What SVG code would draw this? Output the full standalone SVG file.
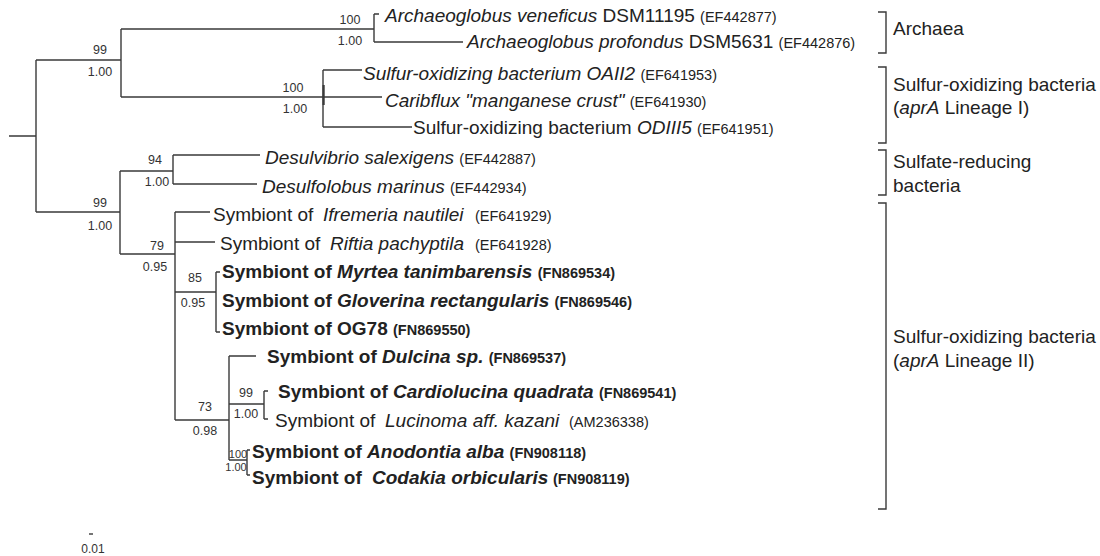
<svg xmlns="http://www.w3.org/2000/svg" width="1100" height="556" viewBox="0 0 1100 556">
<style>
  .br { stroke:#3a3a3a; stroke-width:1.4; fill:none; }
  text { font-family:"Liberation Sans", Arial, Helvetica, sans-serif; fill:#222; }
  .tx { font-size:19px; }
  .b { font-weight:bold; }
  .i { font-style:italic; }
  .acc { font-size:14.5px; font-style:normal; }
  .sup { font-size:12.5px; text-anchor:middle; fill:#333; }
  .sm { font-size:11px; }
  .grp { font-size:19px; }
</style>
<rect width="1100" height="556" fill="#fff"/>
<g id="connectors" class="br">
  <path d="M9,136 H36 M36,60 V212 M36,60 H121 M121,29 V97 M121,29 H374 M374,14 V42 M374,14 H379 M374,42 H463"/>
  <path d="M121,97 H323 M323,70 V127 M323,70 H362 M323,97 H382 M323,127 H412"/>
  <path d="M36,212 H120 M120,171 V254 M120,171 H173 M173,155 V184 M173,155 H260 M173,184 H257"/>
  <path d="M120,254 H175 M175,212 V420 M175,212 H210 M175,242 H215 M175,292 H216 M216,272 V332 M216,272 H220 M216,332 H220"/>
  <path d="M175,420 H229 M229,356 V460 M229,356 H256 M229,404 H264 M264,391 V419 M264,391 H268 M264,419 H268 M229,460 H247 M247,450 V475 M247,450 H250 M247,475 H250"/>
  <rect x="322.5" y="85" width="2.2" height="20" fill="#3a3a3a" stroke="none"/>
</g>
<g id="support">
  <text class="sup" x="100" y="54">99</text><text class="sup" x="100" y="76">1.00</text>
  <text class="sup" x="350" y="24">100</text><text class="sup" x="350" y="45">1.00</text>
  <text class="sup" x="293" y="92">100</text><text class="sup" x="295" y="113">1.00</text>
  <text class="sup" x="155" y="164">94</text><text class="sup" x="157" y="186">1.00</text>
  <text class="sup" x="100" y="207">99</text><text class="sup" x="100" y="230">1.00</text>
  <text class="sup" x="157" y="250">79</text><text class="sup" x="155" y="271">0.95</text>
  <text class="sup" x="195" y="282">85</text><text class="sup" x="193" y="307">0.95</text>
  <text class="sup" x="205" y="411">73</text><text class="sup" x="205" y="435">0.98</text>
  <text class="sup" x="246" y="397">99</text><text class="sup" x="246" y="418">1.00</text>
  <text class="sup sm" x="238" y="458">100</text><text class="sup sm" x="236" y="471">1.00</text>
</g>
<g id="t-veneficus"><text class="tx" x="385" y="22"><tspan class="i">Archaeoglobus veneficus</tspan> DSM11195 <tspan class="acc">(EF442877)</tspan></text></g>
<g id="t-profondus"><text class="tx" x="467" y="48"><tspan class="i">Archaeoglobus profondus</tspan> DSM5631 <tspan class="acc">(EF442876)</tspan></text></g>
<g id="t-oaii2"><text class="tx" x="363" y="80"><tspan class="i">Sulfur-oxidizing bacterium OAII2</tspan> <tspan class="acc">(EF641953)</tspan></text></g>
<g id="t-caribflux"><text class="tx" x="385" y="107"><tspan class="i">Caribflux "manganese crust"</tspan> <tspan class="acc">(EF641930)</tspan></text></g>
<g id="t-odiii5"><text class="tx" x="413" y="134">Sulfur-oxidizing bacterium <tspan class="i">ODIII5</tspan> <tspan class="acc">(EF641951)</tspan></text></g>
<g id="t-desulvibrio"><text class="tx" x="265" y="164"><tspan class="i">Desulvibrio salexigens</tspan> <tspan class="acc">(EF442887)</tspan></text></g>
<g id="t-desulfolobus"><text class="tx" x="262" y="193"><tspan class="i">Desulfolobus marinus</tspan> <tspan class="acc">(EF442934)</tspan></text></g>
<g id="t-ifremeria"><text class="tx" x="213" y="221">Symbiont of <tspan class="i" x="323">Ifremeria nautilei</tspan><tspan class="acc" x="475">(EF641929)</tspan></text></g>
<g id="t-riftia"><text class="tx" x="220" y="250">Symbiont of <tspan class="i" x="330">Riftia pachyptila</tspan><tspan class="acc" x="475">(EF641928)</tspan></text></g>
<g id="t-myrtea"><text class="tx b" x="222" y="278">Symbiont of <tspan class="i">Myrtea tanimbarensis</tspan> <tspan class="acc">(FN869534)</tspan></text></g>
<g id="t-gloverina"><text class="tx b" x="222" y="307">Symbiont of <tspan class="i">Gloverina rectangularis</tspan> <tspan class="acc">(FN869546)</tspan></text></g>
<g id="t-og78"><text class="tx b" x="222" y="335">Symbiont of OG78 <tspan class="acc">(FN869550)</tspan></text></g>
<g id="t-dulcina"><text class="tx b" x="267" y="363">Symbiont of <tspan class="i">Dulcina sp.</tspan> <tspan class="acc">(FN869537)</tspan></text></g>
<g id="t-cardiolucina"><text class="tx b" x="278" y="398">Symbiont of <tspan class="i">Cardiolucina quadrata</tspan> <tspan class="acc">(FN869541)</tspan></text></g>
<g id="t-lucinoma"><text class="tx" x="275" y="427">Symbiont of <tspan class="i" x="385">Lucinoma aff. kazani</tspan><tspan class="acc" x="569">(AM236338)</tspan></text></g>
<g id="t-anodontia"><text class="tx b" x="252" y="458">Symbiont of <tspan class="i">Anodontia alba</tspan> <tspan class="acc">(FN908118)</tspan></text></g>
<g id="t-codakia"><text class="tx b" x="252" y="484">Symbiont of <tspan class="i" x="372">Codakia orbicularis</tspan><tspan class="acc" x="553">(FN908119)</tspan></text></g>
<g id="g-archaea">
  <path class="br" d="M878,12 H886 V53 H878"/>
  <text class="grp" x="893" y="35">Archaea</text>
</g>
<g id="g-lineage1">
  <path class="br" d="M878,67 H886 V143 H878"/>
  <text class="grp" x="893" y="91">Sulfur-oxidizing bacteria</text>
  <text class="grp" x="893" y="114">(<tspan class="i">aprA</tspan> Lineage I)</text>
</g>
<g id="g-sulfate">
  <path class="br" d="M878,150 H886 V195 H878"/>
  <text class="grp" x="893" y="168">Sulfate-reducing</text>
  <text class="grp" x="893" y="192">bacteria</text>
</g>
<g id="g-lineage2">
  <path class="br" d="M878,203 H886 V509 H878"/>
  <text class="grp" x="893" y="343">Sulfur-oxidizing bacteria</text>
  <text class="grp" x="893" y="367">(<tspan class="i">aprA</tspan> Lineage II)</text>
</g>
<g id="scale">
  <path class="br" d="M89,534 H93"/>
  <text class="sup" x="93" y="553" style="font-size:12px">0.01</text>
</g>
</svg>
